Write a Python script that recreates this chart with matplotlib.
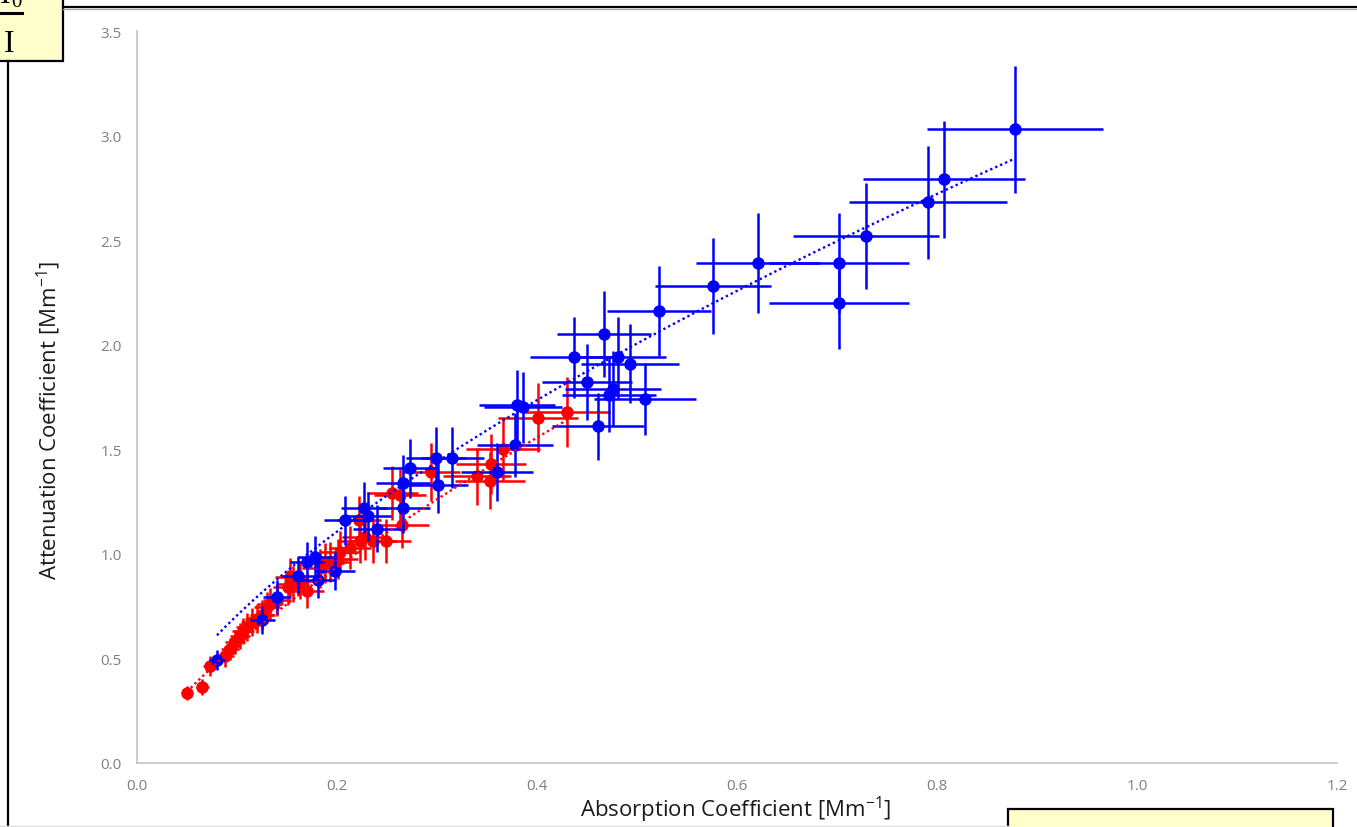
import numpy as np
import matplotlib
matplotlib.use("Agg")
import matplotlib.pyplot as plt
from matplotlib.patches import Rectangle
from matplotlib.lines import Line2D

# ---------------- data ----------------
blue_x = [0.878, 0.807, 0.791, 0.729, 0.702, 0.702, 0.621, 0.576, 0.522, 0.467,
          0.437, 0.481, 0.493, 0.450, 0.476, 0.472, 0.508, 0.461, 0.380, 0.386,
          0.378, 0.360, 0.315, 0.299, 0.273, 0.266, 0.301, 0.266, 0.227, 0.231,
          0.208, 0.240, 0.178, 0.170, 0.161, 0.181, 0.198, 0.140, 0.125, 0.080]
blue_y = [3.03, 2.79, 2.68, 2.52, 2.39, 2.20, 2.39, 2.28, 2.16, 2.05,
          1.94, 1.94, 1.91, 1.82, 1.79, 1.76, 1.74, 1.61, 1.71, 1.70,
          1.52, 1.39, 1.46, 1.46, 1.41, 1.34, 1.33, 1.22, 1.22, 1.18,
          1.16, 1.12, 0.985, 0.96, 0.894, 0.875, 0.918, 0.794, 0.684, 0.493]

red_x = [0.430, 0.401, 0.366, 0.354, 0.340, 0.353, 0.294, 0.255, 0.263, 0.265,
         0.222, 0.249, 0.223, 0.228, 0.213, 0.203, 0.201, 0.188, 0.183, 0.170,
         0.156, 0.151, 0.153, 0.163, 0.133, 0.130, 0.120, 0.115, 0.106, 0.103,
         0.093, 0.088, 0.073, 0.065, 0.050, 0.140, 0.125, 0.110, 0.098, 0.193,
         0.236]
red_y = [1.68, 1.65, 1.50, 1.43, 1.37, 1.35, 1.39, 1.29, 1.28, 1.14,
         1.16, 1.06, 1.06, 1.08, 1.03, 1.01, 0.975, 0.955, 0.93, 0.822,
         0.856, 0.84, 0.889, 0.87, 0.76, 0.745, 0.69, 0.674, 0.63, 0.607,
         0.545, 0.51, 0.464, 0.363, 0.335, 0.78, 0.71, 0.65, 0.58, 0.96,
         1.06]

ERR_PCT = 10.0   # percentage error bars (both axes)

# power-law trendlines y = a * x**b, as shown on the reference
blue_trend_a, blue_trend_b = 3.145, 0.649
red_trend_a, red_trend_b = 3.04, 0.731

x_ticks = [0.0, 0.2, 0.4, 0.6, 0.8, 1.0, 1.2]
y_ticks = [0.0, 0.5, 1.0, 1.5, 2.0, 2.5, 3.0, 3.5]
x_label = "Absorption Coefficient [Mm$^{\\mathregular{-1}}$]"
y_label = "Attenuation Coefficient [Mm$^{\\mathregular{-1}}$]"

BLUE = "#0000FF"
RED = "#FF0000"

W, H = 1357, 828
fig = plt.figure(figsize=(W / 100, H / 100), dpi=100)
fig.patch.set_facecolor("white")

ax = fig.add_axes([137 / W, (H - 764) / H, 1200 / W, 732 / H])
ax.set_facecolor("white")


def draw_series(xs, ys, color, z):
    xs = np.asarray(xs)
    ys = np.asarray(ys)
    ax.errorbar(xs, ys, xerr=xs * ERR_PCT / 100, yerr=ys * ERR_PCT / 100,
                fmt="o", color=color, ecolor=color, markersize=9,
                markeredgewidth=0, elinewidth=1.8, capsize=3.8, capthick=1.8,
                zorder=z)


def draw_trend(xs, a, b, color, z):
    xs = np.asarray(xs)
    xx = np.linspace(xs.min(), xs.max(), 200)
    ax.plot(xx, a * xx ** b, color=color, lw=1.7,
            linestyle=(0, (1, 1.3)), zorder=z)


draw_series(red_x, red_y, RED, 2)
draw_series(blue_x, blue_y, BLUE, 3)
draw_trend(red_x, red_trend_a, red_trend_b, RED, 4)
draw_trend(blue_x, blue_trend_a, blue_trend_b, BLUE, 5)

ax.set_xlim(0, 1.2)
ax.set_ylim(0, 3.5)
ax.set_xticks(x_ticks)
ax.set_yticks(y_ticks)
ax.set_xticklabels([f"{v:.1f}" for v in x_ticks])
ax.set_yticklabels([f"{v:.1f}" for v in y_ticks])
ax.tick_params(length=0, labelsize=11, labelcolor="#808080")
ax.tick_params(axis="y", pad=11)
ax.tick_params(axis="x", pad=11)
for lab in ax.get_xticklabels() + ax.get_yticklabels():
    lab.set_fontfamily("Open Sans")
for s in ["top", "right"]:
    ax.spines[s].set_visible(False)
for s in ["left", "bottom"]:
    ax.spines[s].set_color("#C8C8C8")
    ax.spines[s].set_linewidth(1.3)

fig.text(736 / W, (H - 817) / H, x_label, ha="center", va="baseline",
         fontsize=16, family="Open Sans", color="#1a1a1a")
fig.text(57 / W, (H - 420) / H, y_label, ha="center", va="baseline",
         rotation=90, rotation_mode="anchor",
         fontsize=16, family="Open Sans", color="#1a1a1a")

# ---------------- page decorations around the chart ----------------
ov = fig.add_axes([0, 0, 1, 1], zorder=10)
ov.set_xlim(0, W)
ov.set_ylim(H, 0)
ov.axis("off")
ov.patch.set_visible(False)

ov.add_line(Line2D([63, W], [10, 10], color="#AAAAAA", lw=1.0))
ov.add_line(Line2D([63, W], [8, 8], color="black", lw=1.6))
ov.add_line(Line2D([8, 8], [62, H], color="black", lw=1.6))
ov.add_line(Line2D([0, 1008], [827, 827], color="#DDDDDD", lw=1.0))

ov.add_patch(Rectangle((-3, -3), 66, 65, facecolor="#FFFFCC",
                       edgecolor="black", lw=1.6))
ov.add_line(Line2D([0, 22], [14, 14], color="black", lw=2.2))
ov.text(9, 52, "I", ha="center", va="baseline", fontsize=23,
        family="Liberation Serif", color="black")
ov.text(5, 3, "I", ha="center", va="baseline", fontsize=23,
        family="Liberation Serif", color="black")
ov.text(16, 7, "0", ha="center", va="baseline", fontsize=15,
        family="Liberation Serif", color="black")

ov.add_patch(Rectangle((1008, 810), 325, 30, facecolor="#FFFFCC",
                       edgecolor="black", lw=1.6))

fig.savefig("out.png", dpi=100)
